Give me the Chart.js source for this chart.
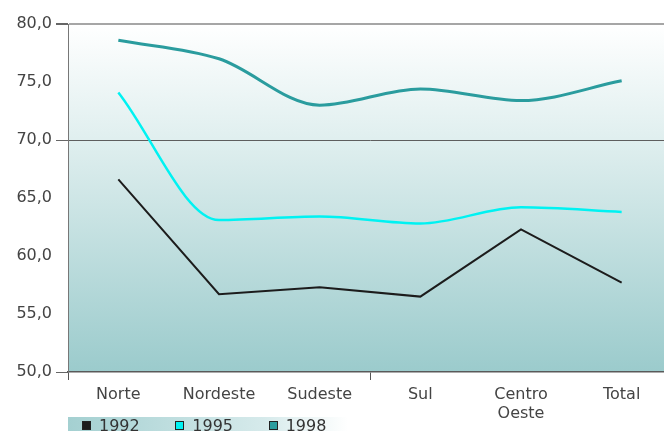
<!DOCTYPE html>
<html>
<head>
<meta charset="utf-8">
<script src="https://cdn.jsdelivr.net/npm/chart.js@4/dist/chart.umd.min.js"></script>
<style>
    html, body { margin: 0; padding: 0; background: #fff; overflow: hidden; }
    #wrap { position: relative; width: 664px; height: 431px; overflow: hidden; }
    #chart { position: absolute; left: 0; top: 0; }
    #legend {
        position: absolute; left: 68px; top: 417px; width: 280px; height: 20px;
        background: linear-gradient(to right, #a4d0d1, #d6eaeb 70%, #ffffff);
        display: flex; font-family: 'DejaVu Sans', sans-serif; font-size: 16px; color: #333;
    }
    #legend .item { width: 98px; display: flex; align-items: flex-start; padding-left: 14px; box-sizing: border-box; }
    #legend .box { width: 9px; height: 9px; margin-top: 4px; margin-right: 8px; box-sizing: border-box; border: 1px solid #222; }
    #legend .txt { line-height: 17px; }
</style>
</head>
<body>
<div id="wrap">
    <canvas id="chart" width="672" height="431"></canvas>
    <div id="legend"></div>
</div>
<script>
const categories = ['Norte', 'Nordeste', 'Sudeste', 'Sul', ['Centro', 'Oeste'], 'Total']
const years = ['1992', '1995', '1998']
const v1992 = [66.6, 56.7, 57.3, 56.5, 62.3, 57.7]
const v1995 = [74.1, 63.1, 63.4, 62.8, 64.2, 63.8]
const v1998 = [78.6, 77.0, 73.0, 74.4, 73.4, 75.1]
const yTicks = [50, 55, 60, 65, 70, 75, 80]

const colors = ['#1c1c1c', '#00f2f2', '#2a9c9e']

// gradient behind the plot area
const plotBg = {
    id: 'plotBg',
    beforeDraw(chart) {
        const { ctx, chartArea: a } = chart
        const g = ctx.createLinearGradient(0, a.top, 0, a.bottom)
        g.addColorStop(0, '#ffffff')
        g.addColorStop(0.35, '#deeeee')
        g.addColorStop(1, '#9bcbcc')
        ctx.save()
        ctx.fillStyle = g
        ctx.fillRect(a.left, a.top, a.right - a.left, a.bottom - a.top)
        ctx.restore()
    },
}

const font = { family: "'DejaVu Sans', sans-serif", size: 16 }

const chart = new Chart(document.getElementById('chart'), {
    type: 'line',
    data: {
        labels: categories,
        datasets: [
            { label: years[0], data: v1992, borderColor: colors[0], borderWidth: 2, tension: 0 },
            { label: years[1], data: v1995, borderColor: colors[1], borderWidth: 2.5, cubicInterpolationMode: 'monotone' },
            { label: years[2], data: v1998, borderColor: colors[2], borderWidth: 3, cubicInterpolationMode: 'monotone' },
        ],
    },
    options: {
        responsive: false,
        animation: false,
        layout: { padding: { top: 24, left: 0, right: 0, bottom: 0 } },
        elements: { point: { radius: 0 } },
        plugins: { legend: { display: false }, tooltip: { enabled: false } },
        scales: {
            x: {
                offset: true,
                grid: {
                    offset: true,
                    drawOnChartArea: false,
                    tickLength: 8,
                    tickColor: (c) => (c.index === 0 || c.index === 3 ? '#555' : 'transparent'),
                },
                border: { color: '#5a5a5a', width: 1.5 },
                ticks: { color: '#444', font, padding: 5, maxRotation: 0, autoSkip: false },
                afterFit: (s) => { s.height = 59 },
            },
            y: {
                min: 50,
                max: 80,
                afterBuildTicks: (s) => { s.ticks = yTicks.map((v) => ({ value: v })) },
                grid: {
                    color: (c) => (c.tick.value === 80 ? '#a6a6a6' : c.tick.value === 70 ? '#5e5e5e' : 'transparent'),
                    lineWidth: (c) => (c.tick.value === 80 ? 2 : 1),
                    tickLength: 12,
                    tickColor: (c) => ([50, 70, 80].includes(c.tick.value) ? '#666' : 'transparent'),
                },
                border: { color: '#777', width: 1 },
                ticks: {
                    color: '#444',
                    font,
                    padding: 4,
                    callback: (v) => v.toFixed(1).replace('.', ','),
                },
                afterFit: (s) => { s.width = 68 },
            },
        },
    },
    plugins: [plotBg],
})

// legend strip under the chart
const legend = document.getElementById('legend')
chart.data.datasets.forEach((ds, i) => {
    const item = document.createElement('div')
    item.className = 'item'
    item.innerHTML = '<span class="box" style="background:' + ds.borderColor + '"></span><span class="txt">' + ds.label + '</span>'
    legend.appendChild(item)
})
</script>
</body>
</html>
